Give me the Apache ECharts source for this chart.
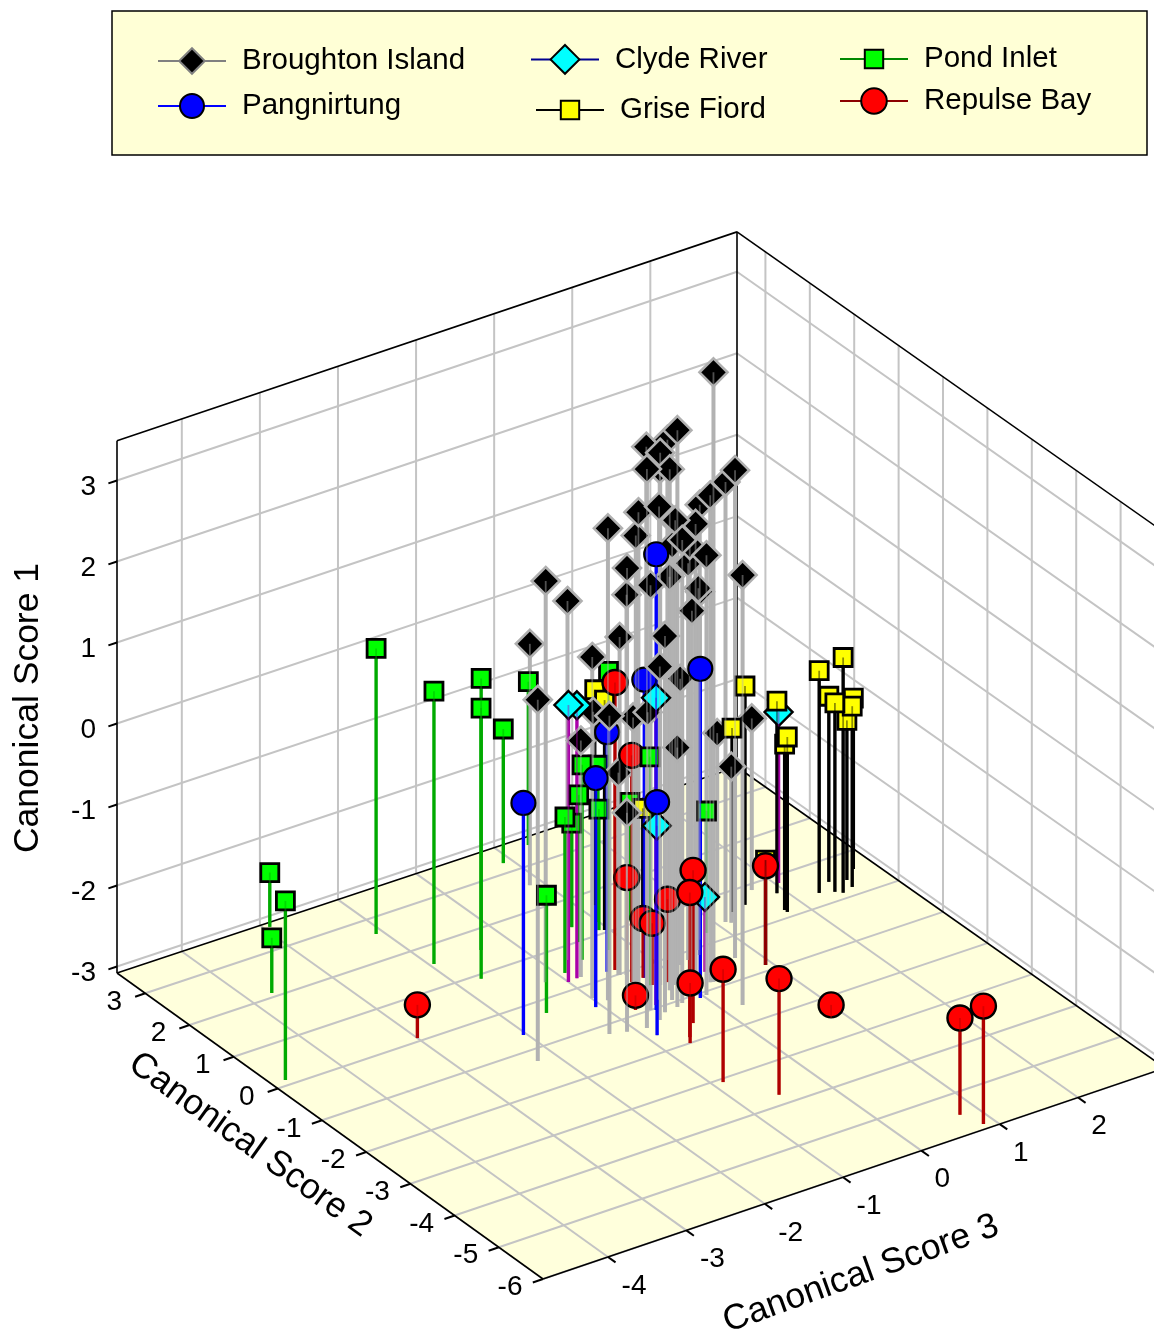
<!DOCTYPE html>
<html><head><meta charset="utf-8"><style>html,body{margin:0;padding:0;background:#fff}#c{width:1154px;height:1329px}</style>
<script src="https://cdn.jsdelivr.net/npm/echarts@6/dist/echarts.min.js"></script></head>
<body><div id="c"></div>
<script>
// Each point: [Canonical Score 1, Canonical Score 2, Canonical Score 3]
const broughton=[[4.42,-0.85,0.26],[3.11,0.33,0.07],[4.02,-1.13,-0.36],[3.32,-0.04,0.13],[3.47,-0.53,-0.24],[3.80,-1.36,-0.88],[2.96,0.01,0.06],
[3.33,-0.71,-0.22],[2.92,-0.49,0.74],[2.33,0.36,1.10],[2.91,-0.83,0.23],[2.46,-0.17,0.47],[2.80,-0.48,-0.49],
[2.99,-0.84,-0.43],[2.49,-0.28,0.03],[2.64,-0.64,-0.11],[2.73,-0.48,-0.88],[2.45,-0.35,-0.45],[2.47,-0.57,0.19],
[2.62,-1.08,-0.27],[2.33,-1.08,0.04],[1.80,-0.19,0.31],[2.52,-0.94,-0.32],[2.63,-1.30,-1.10],[2.15,-1.00,-0.63],
[1.60,-0.07,-0.41],[1.86,0.36,-1.20],[1.34,0.68,-0.74],[2.21,-1.56,0.23],[1.20,0.16,0.66],[1.40,-0.54,0.16],[1.51,0.16,0.27],
[-0.11,2.57,-0.15],[1.08,-0.02,-0.47],[1.55,-1.15,-0.53],[1.12,-0.32,-0.99],[1.27,-1.28,-0.67],[0.44,-0.24,0.18],
[1.37,-1.28,-2.23],[0.84,-1.22,-1.28],[0.16,0.17,-0.70],[0.40,-0.66,-0.66],[0.46,-0.76,-0.53],[-0.17,0.22,-0.83],
[-0.97,0.86,1.72],[-1.03,0.90,1.30],[-0.16,-0.65,-0.09],[-1.16,0.30,1.14],[-0.59,-0.01,-0.48],[-0.96,-0.29,-0.53],
[2.15,-0.42,0.20],[1.37,-0.05,0.52]];
const pangnirtung=[[2.53,-1.04,-0.58],[0.97,-1.10,-0.05],[0.59,-0.26,-0.29],[-0.13,0.14,-0.54],[-0.26,-0.54,-1.07],[-0.21,-1.59,-0.88],[-0.22,-0.62,-2.04]];
const clydeRiver=[[0.33,0.20,-1.00],[0.28,0.22,-0.88],[0.70,-0.93,-0.52],[-0.98,0.82,2.04],[-1.18,-0.40,-0.21],[-2.16,-0.57,0.31]];
const griseFiord=[[-0.35,0.31,2.27],[-0.19,0.14,2.48],[-0.80,0.48,2.49],[-0.76,0.22,2.42],[-0.98,0.58,2.86],[-0.86,0.20,2.63],[-1.12,0.39,2.67],
[-0.93,0.13,1.76],[-1.04,0.19,1.76],[-0.72,0.61,1.90],[-0.39,0.59,1.48],[-0.82,0.53,1.28],[-1.79,-0.86,0.92],[-0.43,1.67,0.17],
[-0.25,1.06,-0.05],[-1.58,0.78,0.28]];
const pondInlet=[[0.44,2.62,-2.09],[0.28,1.56,-1.95],[0.62,0.90,-1.72],[-0.10,1.52,-1.37],[-1.43,3.24,-0.11],[-1.07,3.45,0.33],
[-2.41,3.54,-2.93],[-0.87,0.13,-4.66],[-2.40,2.10,-3.72],[-1.63,-0.31,-1.57],[-1.16,0.42,-0.92],[-1.80,1.36,-0.30],
[-1.27,0.99,-0.42],[-0.68,0.58,-0.61],[-1.15,1.28,-0.01],[-1.59,1.10,-0.10],[0.35,0.60,-0.26],[-0.27,-0.46,-0.33],
[-1.63,1.09,0.29],[-1.58,0.26,0.80]];
const repulseBay=[[-2.67,0.08,-3.00],[0.46,0.12,-0.45],[-0.29,-0.26,-0.45],[-2.19,0.47,-0.10],[-2.06,-0.52,-0.14],[-1.20,-1.59,-0.42],
[-1.30,-1.87,-0.62],[-2.35,-0.25,-0.30],[-2.32,-0.47,-0.31],[-2.90,-0.89,-0.76],[-2.34,-2.00,-0.69],[-1.69,-3.08,-0.88],
[-1.65,-3.76,-0.55],[-1.86,-0.86,0.92],[-2.92,-2.48,0.84],[-1.89,-5.51,0.77],[-1.63,-5.88,0.86]];
const ticksS1=[-3,-2,-1,0,1,2,3];
const ticksS2=[3,2,1,0,-1,-2,-3,-4,-5,-6];
const ticksS3=[-4,-3,-2,-1,0,1,2];
const rangeS1=[-3.08,3.49], rangeS2=[-6,3.64], rangeS3=[-4.83,3.11];

// 3D view of the box onto the page
const vO=[543,1279],vR=[1165,1068],vL=[117,973],vB=[737,767];
function project(s1,s2,s3){
  const u=(s3-rangeS3[0])/(rangeS3[1]-rangeS3[0]), v=(s2-rangeS2[0])/(rangeS2[1]-rangeS2[0]);
  const h=(s1-rangeS1[0])*(81+0.45*u);
  return [vO[0]+u*(vR[0]-vO[0])+v*(vL[0]-vO[0])+u*v*(vB[0]+vO[0]-vR[0]-vL[0]),
          vO[1]+u*(vR[1]-vO[1])+v*(vL[1]-vO[1])+u*v*(vB[1]+vO[1]-vR[1]-vL[1])-h];
}
const GRID='#c4c4c4',FONT='"Liberation Sans",Arial,sans-serif';
const [lo1,hi1]=rangeS1,[lo2,hi2]=rangeS2,[lo3,hi3]=rangeS3;
const segs=[];
function seg(a,b,color,width){segs.push({a,b,color,width});}
ticksS2.forEach(t=>{seg([lo1,t,lo3],[lo1,t,hi3],GRID,2);seg([lo1,t,hi3],[hi1,t,hi3],GRID,2);});
ticksS3.forEach(t=>{seg([lo1,lo2,t],[lo1,hi2,t],GRID,2);seg([lo1,hi2,t],[hi1,hi2,t],GRID,2);});
ticksS1.forEach(t=>{seg([t,hi2,lo3],[t,hi2,hi3],GRID,2);seg([t,hi2,hi3],[t,lo2,hi3],GRID,2);});
const K='#000';
seg([lo1,lo2,lo3],[lo1,hi2,lo3],K,1.6);seg([lo1,lo2,lo3],[lo1,lo2,hi3],K,1.6);
seg([lo1,hi2,lo3],[lo1,hi2,hi3],K,1.6);seg([lo1,hi2,hi3],[lo1,lo2,hi3],K,1.6);
seg([lo1,hi2,lo3],[hi1,hi2,lo3],K,1.6);seg([lo1,hi2,hi3],[hi1,hi2,hi3],K,1.6);
seg([hi1,hi2,lo3],[hi1,hi2,hi3],K,1.6);seg([hi1,hi2,hi3],[hi1,lo2,hi3],K,1.6);
ticksS1.forEach(t=>seg([t,hi2,lo3],[t,hi2,lo3-0.11],K,2));
ticksS2.forEach(t=>seg([lo1,t,lo3],[lo1,t,lo3-0.13],K,2));
ticksS3.forEach(t=>seg([lo1,lo2,t],[lo1,lo2-0.17,t],K,2));

const labels=[];
ticksS1.forEach(t=>{const p=project(t,hi2,lo3);labels.push({p,text:String(t),dx:-21,dy:7,align:'right'});});
ticksS2.forEach(t=>{const p=project(lo1,t,lo3);labels.push({p,text:String(t),dx:t<0?-33:-31,dy:8.5,align:'center'});});
ticksS3.forEach(t=>{const p=project(lo1,lo2,t);labels.push({p,text:String(t),dx:t<0?26:21,dy:29,align:'center'});});

const groups=[
 {name:'Broughton Island',data:broughton,kind:'diamond',size:28,fill:'#000',edge:'#b0b0b0',edgeW:2.6,line:'#b2b2b2',lineW:4,legLine:'#808080',legEdge:'#808080',iconH:32,left:157,top:46,legW:1.6},
 {name:'Pangnirtung',data:pangnirtung,kind:'circle',size:24,fill:'#0000ff',edge:'#000',edgeW:2.2,line:'#0000ff',lineW:3.4,legLine:'#0000ff',legEdge:'#000',iconH:30,left:157,top:91,legW:1.6},
 {name:'Clyde River',data:clydeRiver,kind:'diamond',size:28,fill:'#00ffff',edge:'#000',edgeW:2.4,line:'#aa00aa',lineW:3.4,legLine:'#000090',legEdge:'#000',iconH:36,left:530,top:44,legW:1.4},
 {name:'Grise Fiord',data:griseFiord,kind:'rect',size:18,fill:'#ffff00',edge:'#000',edgeW:2.8,line:'#000',lineW:3.4,legLine:'#000',legEdge:'#000',iconH:23,left:535,top:95,legW:1.4},
 {name:'Pond Inlet',data:pondInlet,kind:'rect',size:18,fill:'#00ff00',edge:'#000',edgeW:2.8,line:'#00aa00',lineW:3.4,legLine:'#008800',legEdge:'#000',iconH:23,left:839,top:44,legW:1.4},
 {name:'Repulse Bay',data:repulseBay,kind:'circle',size:25,fill:'#ff0000',edge:'#000',edgeW:2.4,line:'#b00000',lineW:3.4,legLine:'#8b0000',legEdge:'#000',iconH:32,left:839,top:86,legW:2.4}
];
const symbolName={diamond:'diamond',circle:'circle',rect:'rect'};
const TOP_LAYER=100000;
function markerEl(g,c,z2){
  const r=g.size/2,style={fill:g.fill,stroke:g.edge,lineWidth:g.edgeW};
  if(g.kind==='circle')return{type:'circle',z2,shape:{cx:c[0],cy:c[1],r},style};
  if(g.kind==='rect')return{type:'rect',z2,shape:{x:c[0]-r,y:c[1]-r,width:g.size,height:g.size},style};
  return{type:'polygon',z2,shape:{points:[[c[0],c[1]-r],[c[0]+r,c[1]],[c[0],c[1]+r],[c[0]-r,c[1]]]},style};
}
function pointRender(g){
  return function(params,api){
    const s1=api.value(0),s2=api.value(1),s3=api.value(2);
    const top=api.coord(project(s1,s2,s3)),foot=api.coord(project(lo1,s2,s3));
    const d=Math.round(foot[1])*3;
    const shape={x1:top[0],y1:top[1],x2:foot[0],y2:foot[1]};
    return{type:'group',children:[
      {type:'line',z2:d,shape,style:{stroke:g.line,lineWidth:g.lineW}},
      markerEl(g,top,TOP_LAYER+d),
      {type:'line',z2:TOP_LAYER+d+1,shape,style:{stroke:g.line,lineWidth:1.8,opacity:.45}}
    ]};
  };
}
const series=[];
// carriers of the legend keys (line plus symbol)
groups.forEach(g=>series.push({type:'line',name:g.name,data:[],symbol:symbolName[g.kind],
  itemStyle:{color:g.fill,borderColor:g.legEdge,borderWidth:1.4},lineStyle:{color:g.legLine,width:g.legW}}));
series.push({type:'custom',name:'Floor',z:1,silent:true,clip:false,data:[[0,0]],renderItem(p,api){
  const pts=[[lo2,lo3],[lo2,hi3],[hi2,hi3],[hi2,lo3]].map(q=>api.coord(project(lo1,q[0],q[1])));
  return{type:'polygon',shape:{points:pts},style:{fill:'#ffffdc'}};
}});
series.push({type:'custom',name:'Box',z:1,silent:true,clip:false,data:segs.map((s,i)=>[i,i]),renderItem(p,api){
  const s=segs[p.dataIndex],a=api.coord(project(...s.a)),b=api.coord(project(...s.b));
  return{type:'line',z2:s.color===K?5:1,shape:{x1:a[0],y1:a[1],x2:b[0],y2:b[1]},style:{stroke:s.color,lineWidth:s.width}};
}});
series.push({type:'custom',name:'Tick labels',z:1,silent:true,clip:false,data:labels.map((s,i)=>[i,i]),renderItem(p,api){
  const l=labels[p.dataIndex],c=api.coord(l.p);
  return{type:'text',z2:6,style:{text:l.text,x:c[0]+l.dx,y:c[1]+l.dy,align:l.align,verticalAlign:'middle',fill:'#000',font:'28px '+FONT}};
}});
groups.forEach(g=>series.push({type:'custom',name:g.name,z:2,silent:true,clip:false,data:g.data,renderItem:pointRender(g)}));

const legends=groups.map(g=>({data:[g.name],left:g.left,top:g.top,padding:0,orient:'horizontal',selectedMode:false,
  itemWidth:68,itemHeight:g.iconH,textStyle:{fontFamily:FONT,fontSize:29.5,color:'#000',padding:[4,0,0,11]}}));

function axisTitle(text,x,y,deg){return{type:'text',x,y,rotation:deg*Math.PI/180,z:3,silent:true,
  style:{text,x:0,y:0,align:'center',verticalAlign:'middle',fill:'#000',font:'35.5px '+FONT}};}

const chart=echarts.init(document.getElementById('c'),null,{renderer:'canvas'});
chart.setOption({animation:false,backgroundColor:'#fff',
  grid:{left:0,top:0,width:1154,height:1329,containLabel:false},
  xAxis:{type:'value',min:0,max:1154,show:false},
  yAxis:{type:'value',min:0,max:1329,inverse:true,show:false},
  legend:legends,
  graphic:[
    {type:'rect',z:0,silent:true,shape:{x:112,y:11,width:1035,height:144},style:{fill:'#ffffd6',stroke:'#000',lineWidth:1.5}},
    axisTitle('Canonical Score 1',28,708,90),
    axisTitle('Canonical Score 2',250,1145,-35.8),
    axisTitle('Canonical Score 3',861,1274,19.8)
  ],
  series});
</script></body></html>
